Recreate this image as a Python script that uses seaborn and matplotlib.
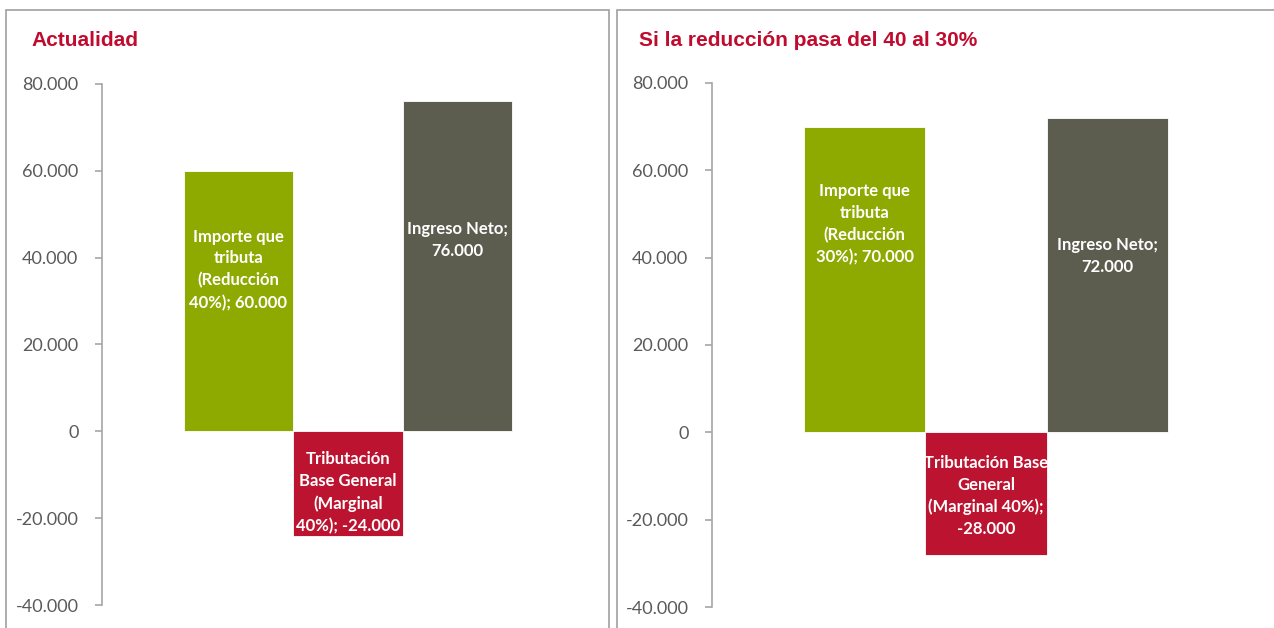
import matplotlib
matplotlib.use("Agg")
import matplotlib.pyplot as plt
import matplotlib.patches as mpatches
from matplotlib.ticker import FuncFormatter, MultipleLocator
import seaborn as sns

# data
categories = ["Importe que tributa", "Tributación Base General", "Ingreso Neto"]
actual_values = [60000, -24000, 76000]
new_values = [70000, -28000, 72000]
actual_labels = ["Importe que\ntributa\n(Reducción\n40%); 60.000",
                 "Tributación\nBase General\n(Marginal\n40%); -24.000",
                 "Ingreso Neto;\n76.000"]
new_labels = ["Importe que\ntributa\n(Reducción\n30%); 70.000",
              "Tributación Base\nGeneral\n(Marginal 40%);\n-28.000",
              "Ingreso Neto;\n72.000"]
titles = ["Actualidad", "Si la reducción pasa del 40 al 30%"]

# where the label sits inside each bar (fraction of bar height)
actual_label_pos = [0.62, 0.59, 0.58]
new_label_pos = [0.68, 0.52, 0.56]

colors = ["#8EA900", "#BC1430", "#5D5D4F"]
title_red = "#C00A2E"
tick_gray = "#5A5A5A"
axis_gray = "#A6A6A6"

sns.set_theme(style="white")
plt.rcParams["font.family"] = ["Lato", "DejaVu Sans"]

W, H = 1274, 628
fig = plt.figure(figsize=(W / 100, H / 100), dpi=100)


def fmt(v, pos):
    return f"{v:,.0f}".replace(",", ".")


def draw_panel(rect, values, labels, label_pos, xlim):
    ax = fig.add_axes(rect)
    sns.barplot(x=categories, y=values, hue=categories, palette=colors,
                saturation=1, width=1, legend=False, ax=ax,
                edgecolor="white", linewidth=0.6)
    ax.set_ylim(-40000, 80000)
    ax.set_xlim(*xlim)
    ax.yaxis.set_major_locator(MultipleLocator(20000))
    ax.yaxis.set_major_formatter(FuncFormatter(fmt))
    ax.tick_params(axis="y", left=True, direction="out", length=5, width=1.2,
                   color=axis_gray, labelcolor=tick_gray, labelsize=13, pad=12)
    ax.tick_params(axis="x", bottom=False, labelbottom=False)
    for side in ["top", "right", "bottom"]:
        ax.spines[side].set_visible(False)
    ax.spines["left"].set_color(axis_gray)
    ax.spines["left"].set_linewidth(1.2)
    ax.set_xlabel("")
    ax.set_ylabel("")
    ax.patch.set_alpha(0)
    for i, (v, lab, p) in enumerate(zip(values, labels, label_pos)):
        ax.text(i, v * p, lab, ha="center", va="center", color="white",
                fontsize=12, fontweight="bold", linespacing=1.45)
    return ax


draw_panel([102 / W, 1 - 605 / H, 492 / W, 521 / H],
           actual_values, actual_labels, actual_label_pos, (-1.245, 3.245))
draw_panel([712 / W, 1 - 607 / H, 548 / W, 524 / H],
           new_values, new_labels, new_label_pos, (-1.26, 3.26))

# panel frames
for x0, x1 in [(6, 609), (617, 1290)]:
    fig.patches.append(mpatches.Rectangle(
        (x0 / W, -0.02), (x1 - x0) / W, (H - 10) / H + 0.02,
        transform=fig.transFigure, fill=False, edgecolor="#A0A0A0",
        linewidth=1.2, zorder=0))

fig.text(31 / W, 1 - 41 / H, titles[0], color=title_red, fontsize=15,
         fontweight="bold", family="Liberation Sans", ha="left", va="center")
fig.text(639 / W, 1 - 41 / H, titles[1], color=title_red, fontsize=15,
         fontweight="bold", family="Liberation Sans", ha="left", va="center")

fig.savefig("out.png", dpi=100)
